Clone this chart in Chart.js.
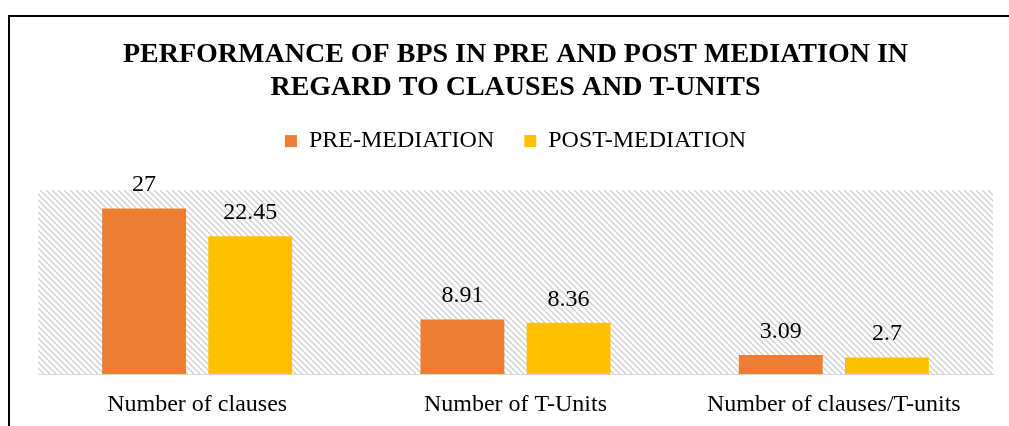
<!DOCTYPE html>
<html>
<head>
<meta charset="utf-8">
<script src="https://cdn.jsdelivr.net/npm/chart.js@4/dist/chart.umd.min.js"></script>
<style>
  html, body { margin: 0; padding: 0; background: #fff; overflow: hidden; }
  #frame { position: absolute; left: 8px; top: 15px; width: 1012px; height: 420px;
           border-left: 2px solid #000; border-top: 2px solid #000; }
  #wrap { position: absolute; left: 10px; top: 17px; width: 1010px; height: 409px; }
</style>
</head>
<body>
<div id="frame"></div>
<div id="wrap"><canvas id="chart"></canvas></div>
<script>
var categories = ["Number of clauses", "Number of T-Units", "Number of clauses/T-units"];
var preMediation = [27, 8.91, 3.09];
var postMediation = [22.45, 8.36, 2.7];
var seriesNames = ["PRE-MEDIATION", "POST-MEDIATION"];
var titleLines = ["PERFORMANCE OF BPS IN PRE AND POST MEDIATION IN", "REGARD TO CLAUSES AND T-UNITS"];

var serif = '"Liberation Serif", "Times New Roman", serif';

// diagonal hatch behind the bars
var hatch = {
  id: 'hatch',
  beforeDatasetsDraw: function(chart) {
    var a = chart.chartArea, ctx = chart.ctx;
    ctx.save();
    ctx.beginPath();
    ctx.rect(a.left, a.top, a.right - a.left, a.bottom - a.top);
    ctx.clip();
    ctx.strokeStyle = '#d2d2d2';
    ctx.lineWidth = 1.5;
    var h = a.bottom - a.top;
    for (var x = a.left - h; x < a.right; x += 6) {
      ctx.beginPath();
      ctx.moveTo(x, a.top);
      ctx.lineTo(x + h, a.bottom);
      ctx.stroke();
    }
    ctx.restore();
  }
};

var valueLabels = {
  id: 'valueLabels',
  afterDatasetsDraw: function(chart) {
    var ctx = chart.ctx;
    ctx.save();
    ctx.font = '24px ' + serif;
    ctx.fillStyle = '#000';
    ctx.textAlign = 'center';
    ctx.textBaseline = 'alphabetic';
    chart.data.datasets.forEach(function(ds, i) {
      chart.getDatasetMeta(i).data.forEach(function(bar, j) {
        ctx.fillText(String(ds.data[j]), bar.x, bar.y - 17);
      });
    });
    ctx.restore();
  }
};

var canvas = document.getElementById('chart').getContext('2d');
window.bars = new Chart(canvas, {
  type: 'bar',
  data: {
    labels: categories,
    datasets: [
      { label: seriesNames[0], data: preMediation, backgroundColor: '#ED7D31' },
      { label: seriesNames[1], data: postMediation, backgroundColor: '#FFC000' }
    ]
  },
  options: {
    responsive: true,
    maintainAspectRatio: false,
    animation: false,
    categoryPercentage: 0.667,
    barPercentage: 0.79,
    layout: { padding: { left: 28, right: 27, top: 0, bottom: 0 } },
    plugins: {
      title: {
        display: true,
        text: titleLines,
        color: '#000',
        font: { family: serif, size: 28, weight: 'bold', lineHeight: 1.18 },
        padding: { top: 21, bottom: -5 }
      },
      legend: {
        position: 'top',
        labels: {
          color: '#000',
          font: { family: serif, size: 24 },
          boxWidth: 12,
          boxHeight: 12,
          padding: 30
        }
      },
      tooltip: { enabled: false }
    },
    scales: {
      x: {
        grid: { display: false, drawTicks: false },
        border: { display: true, color: '#d9d9d9', width: 1 },
        ticks: { color: '#000', font: { family: serif, size: 24 }, padding: 16 },
        afterFit: function(scale) { scale.height = 52; }
      },
      gap: {
        type: 'category',
        position: 'top',
        grid: { display: false, drawTicks: false },
        border: { display: false },
        ticks: { display: false },
        afterFit: function(scale) { scale.height = 27; }
      },
      y: {
        display: false,
        min: 0,
        max: 30
      }
    }
  },
  plugins: [hatch, valueLabels]
});
</script>
</body>
</html>
